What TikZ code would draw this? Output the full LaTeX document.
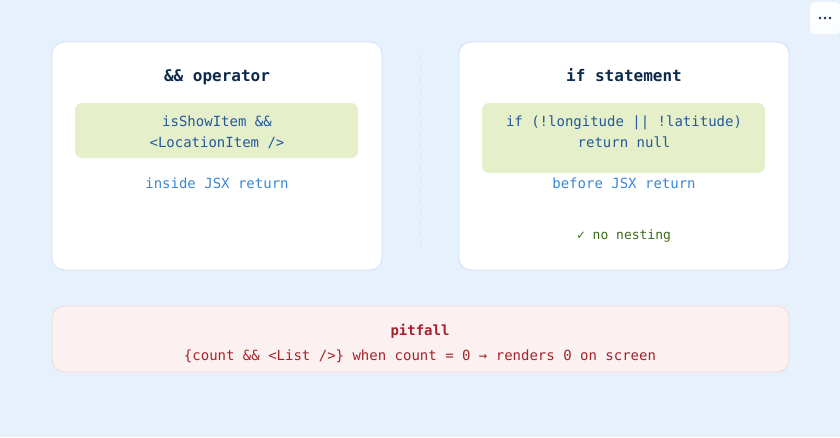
\documentclass[tikz,border=0pt]{standalone}
\usepackage{fontspec}
\setmonofont{DejaVu Sans Mono}
\usetikzlibrary{calc}
\definecolor{pagebg}{HTML}{E7F1FB}
\definecolor{cardline}{HTML}{CFE1F4}
\definecolor{codefill}{HTML}{E5F0CB}
\definecolor{codeink}{HTML}{24589A}
\definecolor{titleink}{HTML}{0E2B4B}
\definecolor{noteink}{HTML}{3A87D6}
\definecolor{okink}{HTML}{3C6B17}
\definecolor{pitfill}{HTML}{FCF1F1}
\definecolor{pitline}{HTML}{F4D7DA}
\definecolor{pitink}{HTML}{A3232B}
\tikzset{card/.style={draw=cardline,fill=white,rounded corners=12pt,line width=0.8pt}}
\tikzset{codebox/.style={fill=codefill,rounded corners=7pt}}
\tikzset{cardtitle/.style={anchor=base,font=\ttfamily\bfseries\fontsize{16}{19}\selectfont,text=titleink}}
\tikzset{codetext/.style={anchor=base,font=\ttfamily\fontsize{14}{21}\selectfont,text=codeink,align=center}}
\tikzset{notetext/.style={anchor=base,font=\ttfamily\fontsize{14}{17}\selectfont,text=noteink}}

\begin{document}
\begin{tikzpicture}[x=1pt,y=-1pt]
	\useasboundingbox (0,0) rectangle (840,437);
	\fill[pagebg] (0,0) rectangle (840,437);
	% menu button
	\fill[white!60!pagebg!40!white,rounded corners=4pt] (810,2) rectangle (840,34);
	\foreach \dx in {-5,0,5}
		\fill[titleink] (825+\dx,18) circle (1.3pt);
	% separator
	\draw[cardline!70!pagebg,line width=1pt,dash pattern=on 6pt off 5pt] (420,55) -- (420,253);
	% left card
	\draw[card] (52,42) rectangle (382,270);
	\node[cardtitle] (andtitle) at (217,81) {\&\& operator};
	\fill[codebox] (75,103) rectangle (358,158);
	\node[codetext] (andcode) at (217,147) {isShowItem \&\&\\<LocationItem />}; % base = last line
	\node[notetext] (andnote) at (217,188) {inside JSX return};
	% right card
	\draw[card] (459,42) rectangle (789,270);
	\node[cardtitle] (iftitle) at (624,81) {if statement};
	\fill[codebox] (482,103) rectangle (765,173);
	\node[codetext] (ifcode) at (624,147) {if (!longitude || !latitude)\\return null};
	\node[notetext] (ifnote) at (624,188) {before JSX return};
	\node[anchor=base,font=\ttfamily\fontsize{13}{16}\selectfont,text=okink] (ifgain) at (624,239) {✓ no nesting};
	% pitfall
	\draw[draw=pitline,fill=pitfill,rounded corners=12pt,line width=0.8pt] (52,306) rectangle (789,372);
	\node[anchor=base,font=\ttfamily\bfseries\fontsize{14}{17}\selectfont,text=pitink] (pittitle) at (420,335) {pitfall};
	\node[anchor=base,font=\ttfamily\fontsize{14}{17}\selectfont,text=pitink] (pittext) at (420,360) {\{count \&\& <List />\} when count = 0 → renders 0 on screen};
\end{tikzpicture}
\end{document}
